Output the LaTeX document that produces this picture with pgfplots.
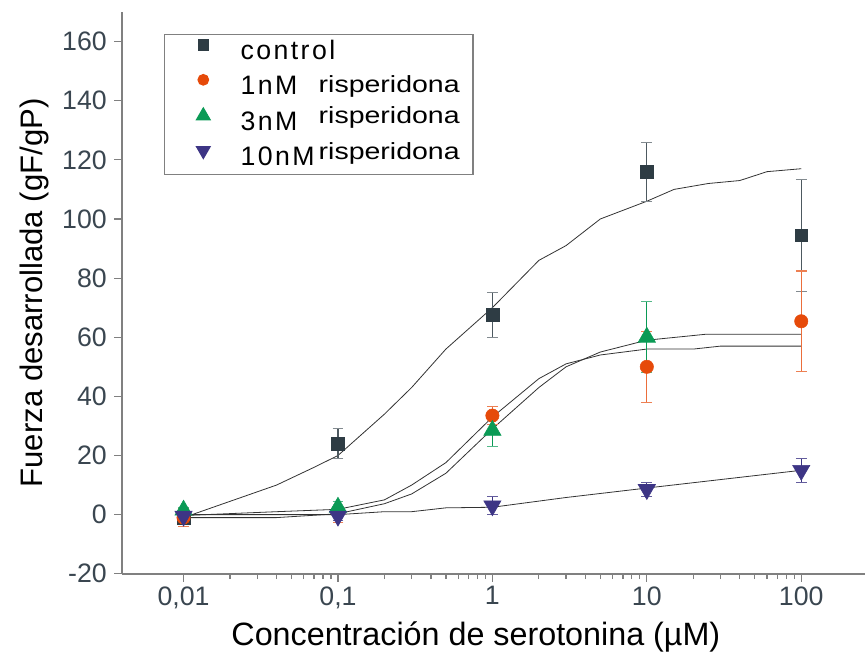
\documentclass[border=0pt]{standalone}
\usepackage{fontspec}
\setmainfont{Liberation Sans}
\newfontfamily\numfont[LetterSpace=9]{Liberation Sans}
\usepackage{graphicx}
\usepackage{pgfplots}
\pgfplotsset{compat=1.18}
\definecolor{cctrl}{HTML}{2E3C44}
\definecolor{corange}{HTML}{E64A0A}
\definecolor{cgreen}{HTML}{0A9A55}
\definecolor{cpurple}{HTML}{3D3585}
\definecolor{tickc}{HTML}{3A4650}
\newcommand{\risp}[1]{\raisebox{#1}{\scalebox{1.22}[1]{\fontsize{17.5}{17.5}\selectfont risperidona}}\hspace*{4pt}}
\begin{document}
\begin{tikzpicture}
\begin{axis}[
  scale only axis, width=557pt, height=421pt,
  xmode=log, xmin=0.004, xmax=260, ymin=-20, ymax=170,
  axis x line*=bottom, axis y line*=left,
  axis line style={gray, line width=1.2pt},
  ytick={-20,0,20,40,60,80,100,120,140,160},
  xtick={0.01,0.1,1,10,100},
  xticklabels={{0,01},{0,1},{1},{10},{100}},
  tick align=outside, major tick length=6pt, minor tick length=4pt,
  tick style={gray, line width=0.9pt},
  ticklabel style={font=\fontsize{20}{20}\selectfont, text=tickc},
  yticklabel style={xshift=-2pt},
  /pgf/number format/assume math mode=true,
  xlabel={Concentración de serotonina (µM)},
  ylabel={Fuerza desarrollada (gF/gP)},
  xlabel style={font=\fontsize{24.2}{24.2}\selectfont, at={(axis description cs:0.476,0)}, anchor=center, yshift=-47pt},
  ylabel style={font=\fontsize{23.3}{23.3}\selectfont, at={(axis description cs:-0.1176,0.5)}, anchor=center},
  legend cell align=left,
  legend style={at={(0.0565,0.961)}, anchor=north west, draw=gray, line width=0.8pt,
    font=\fontsize{20}{20}\selectfont, row sep=6pt, inner xsep=6pt, inner ysep=3pt,
    nodes={inner sep=0pt, text height=16pt, text depth=4pt}},
  legend image code/.code={
    \path[draw=none] (0pt,0pt) -- (51pt,0pt);
    \draw[#1, every mark/.append style={scale=0.8}] plot coordinates {(23pt,5pt)};
  },
  error bars/y dir=both, error bars/y explicit,
]
% fitted curves
\addplot[forget plot, color=black!80, line width=0.6pt] coordinates {
 (0.01,-1) (0.02,4.5) (0.04,10) (0.07,16) (0.1,20) (0.2,34) (0.3,43) (0.5,56)
 (1,70) (2,86) (3,91) (5,100) (10,106) (15,110) (25,112) (40,113) (60,116) (100,117)};
\addplot[forget plot, color=black!80, line width=0.6pt] coordinates {
 (0.01,-0.3) (0.04,1) (0.1,1.8) (0.2,5) (0.3,10) (0.5,17.6) (1,33) (2,46) (3,51)
 (5,54) (10,56) (20,56) (30,57) (100,57)};
\addplot[forget plot, color=black!80, line width=0.6pt] coordinates {
 (0.01,-1) (0.04,-1) (0.1,0.3) (0.2,3.7) (0.3,7) (0.5,14) (1,29) (2,43) (3,50)
 (5,55) (10,59) (24,61) (100,61)};
\addplot[forget plot, color=black!80, line width=0.6pt] coordinates {
 (0.01,0) (0.1,0) (0.2,1) (0.3,1) (0.5,2.3) (1,2.5) (3,5.8) (10,9) (100,15)};
% data
\addplot[only marks, mark=square*, mark size=4.8pt, color=cctrl,
  error bars/error bar style={color=cctrl!85, line width=0.8pt},
  error bars/error mark options={rotate=90, color=cctrl!60, mark size=4pt, line width=0.8pt}]
  table[x=x, y=y, y error=e] {
x y e
0.01 -1 2
0.1 24 5
1 67.5 7.5
10 116 10
100 94.5 19
};
\addlegendentry{{\numfont control}}
\addplot[only marks, mark=*, mark size=5pt, color=corange,
  error bars/error bar style={color=corange!80, line width=0.8pt},
  error bars/error mark options={rotate=90, color=corange!70, mark size=4pt, line width=0.8pt}]
  table[x=x, y=y, y error=e] {
x y e
0.01 -1 3
0.1 1 3.5
1 33.5 3
10 50 12
100 65.4 17
};
\addlegendentry{\makebox[58.5pt][l]{\numfont 1nM}\risp{1.5pt}}
\addplot[only marks, mark=triangle*, mark size=7.5pt, color=cgreen,
  error bars/error bar style={color=cgreen, line width=0.8pt},
  error bars/error mark options={rotate=90, color=cgreen!70, mark size=4pt, line width=0.8pt}]
  table[x=x, y=y, y error=e] {
x y e
0.01 1.5 1
0.1 2.5 2
1 28.5 5.5
10 60 12
};
\addlegendentry{\makebox[58.5pt][l]{\numfont 3nM}\risp{5pt}}
\addplot[only marks, mark=triangle*, mark size=7.5pt, mark options={rotate=180}, color=cpurple,
  error bars/error bar style={color=cpurple, line width=0.8pt},
  error bars/error mark options={rotate=90, color=cpurple!80, mark size=4pt, line width=0.8pt}]
  table[x=x, y=y, y error=e] {
x y e
0.01 -0.5 1
0.1 -0.5 1.5
1 3 3
10 8.5 2.5
100 15 4
};
\addlegendentry{\makebox[58.5pt][l]{\numfont 10nM}\risp{4pt}}
\end{axis}
\pgfresetboundingbox
\path[use as bounding box] ([xshift=-91.5pt,yshift=-66pt]current axis.south west) rectangle ([xshift=2pt,yshift=9pt]current axis.north east);
\end{tikzpicture}
\end{document}
